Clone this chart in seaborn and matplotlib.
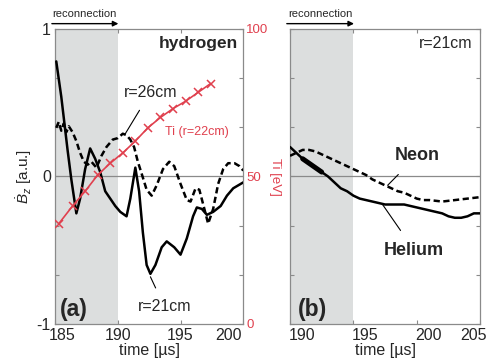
import numpy as np
import pandas as pd
import matplotlib
matplotlib.use("Agg")
import matplotlib.pyplot as plt
import matplotlib.transforms as mtransforms
import seaborn as sns

# --- data ---
# panel (a): hydrogen, r=21cm (solid)
t_h21 = [185.1, 185.5, 186.0, 186.3, 186.7, 187.0, 187.4, 187.8, 188.2, 188.6, 189.0, 189.4,
         189.8, 190.2, 190.7, 191.0, 191.4, 191.7, 192.0, 192.3, 192.6, 193.0, 193.5, 193.9,
         194.5, 195.0, 195.5, 196.0, 196.3, 196.7, 197.1, 197.6, 198.2, 198.7, 199.2, 199.6, 200.0]
b_h21 = [0.78, 0.54, 0.18, -0.02, -0.25, -0.15, 0.05, 0.19, 0.12, 0.03, -0.10, -0.15,
         -0.20, -0.24, -0.27, -0.15, 0.06, -0.10, -0.38, -0.60, -0.66, -0.60, -0.48, -0.44,
         -0.48, -0.53, -0.42, -0.27, -0.21, -0.22, -0.26, -0.24, -0.20, -0.13, -0.08, -0.06, -0.04]

# panel (a): hydrogen, r=26cm (dashed)
t_h26 = [185.1, 185.3, 185.5, 185.7, 185.9, 186.1, 186.4, 186.7, 187.0, 187.3, 187.6, 187.9,
         188.3, 188.7, 189.1, 189.6, 190.0, 190.4, 190.7, 191.0, 191.3, 191.6, 191.9, 192.3,
         192.7, 193.1, 193.6, 194.1, 194.5, 195.0, 195.5, 195.8, 196.2, 196.5, 196.9, 197.2,
         197.6, 198.0, 198.4, 198.8, 199.3, 199.7, 200.0]
b_h26 = [0.33, 0.37, 0.31, 0.36, 0.30, 0.34, 0.30, 0.24, 0.16, 0.10, 0.08, 0.10,
         0.06, 0.14, 0.20, 0.25, 0.26, 0.29, 0.28, 0.25, 0.20, 0.10, 0.02, -0.09,
         -0.13, -0.06, 0.05, 0.10, 0.07, -0.05, -0.16, -0.17, -0.08, -0.09, -0.22, -0.32,
         -0.22, -0.05, 0.05, 0.09, 0.09, 0.07, 0.04]

# panel (a): ion temperature at r=22cm
t_ti = [185.3, 186.4, 187.4, 188.4, 189.4, 190.4, 191.4, 192.4, 193.4, 194.4, 195.4, 196.4, 197.4]
ti = [34, 40, 45, 50.5, 54.5, 58, 62, 66.5, 70, 73, 75.5, 78.5, 81.5]

# panel (b): helium (solid) and neon (dashed), r=21cm
t_he = [190.0, 190.5, 191.0, 191.5, 192.0, 192.5, 193.0, 193.5, 194.0, 194.5, 195.0, 195.5,
        196.0, 196.5, 197.0, 197.5, 198.0, 198.5, 199.0, 199.5, 200.0, 200.5, 201.0, 201.5,
        202.0, 202.5, 203.0, 203.5, 204.0, 204.5, 205.0]
b_he = [0.20, 0.16, 0.12, 0.09, 0.06, 0.03, 0.00, -0.04, -0.08, -0.10, -0.13, -0.15,
        -0.16, -0.17, -0.18, -0.19, -0.19, -0.19, -0.19, -0.20, -0.21, -0.22, -0.23, -0.24,
        -0.25, -0.27, -0.28, -0.28, -0.27, -0.25, -0.25]
t_ne = [190.0, 190.5, 191.0, 191.5, 192.0, 192.5, 193.0, 193.5, 194.0, 194.5, 195.0, 195.5,
        196.0, 196.5, 197.0, 197.5, 198.0, 198.5, 199.0, 199.5, 200.0, 200.5, 201.0, 202.0,
        203.0, 204.0, 205.0]
b_ne = [0.14, 0.16, 0.18, 0.18, 0.17, 0.15, 0.13, 0.11, 0.09, 0.07, 0.05, 0.03,
        0.01, -0.02, -0.04, -0.06, -0.08, -0.10, -0.11, -0.13, -0.15, -0.16, -0.16, -0.17,
        -0.16, -0.15, -0.14]

sns.set_style("ticks")
plt.rcParams["font.family"] = ["Liberation Sans", "DejaVu Sans"]
plt.rcParams["mathtext.fontset"] = "custom"
plt.rcParams["mathtext.it"] = "Liberation Sans:italic"
plt.rcParams["mathtext.rm"] = "Liberation Sans"

RED = "#e0404e"
SPINE = "#8a8a8a"
SHADE = "#dcdede"
LW = 1.8
DASH = (2.5, 1.4)

fig = plt.figure(figsize=(4.89, 3.62), dpi=100)
ax1 = fig.add_axes([0.1125, 0.105, 0.385, 0.815])
ax2 = fig.add_axes([0.593, 0.105, 0.389, 0.815])

yt = np.linspace(-1, 1, 7)


def style_axes(ax, xlim, xticks, shade_end, ylabels):
    ax.set_xlim(*xlim)
    ax.set_ylim(-1, 1)
    ax.axvspan(xlim[0], shade_end, color=SHADE, lw=0, zorder=0)
    ax.axhline(0, color=SPINE, lw=0.9, zorder=1)
    ax.set_xticks(xticks)
    ax.set_yticks(yt)
    ax.set_yticklabels(ylabels)
    ax.tick_params(direction="in", length=3, color=SPINE, labelsize=11.5, pad=3,
                   top=True, right=True)
    for s in ax.spines.values():
        s.set_color(SPINE)
        s.set_linewidth(0.9)
    ax.set_xlabel("time [\u00b5s]", fontsize=11.5, labelpad=0)
    # reconnection arrow above the shaded window
    tr = ax.get_xaxis_transform()
    ax.annotate("", xy=(shade_end + 0.05, 1.018), xytext=(xlim[0] - 0.25, 1.018),
                xycoords=tr, textcoords=tr,
                arrowprops=dict(arrowstyle="-|>", color="black", lw=1.0,
                                mutation_scale=8, shrinkA=0, shrinkB=0),
                annotation_clip=False)
    ax.text((xlim[0] - 0.25 + shade_end) / 2, 1.035, "reconnection", transform=tr,
            ha="center", va="bottom", fontsize=8)


def shift_xlabels(ax, shifts_px):
    # nudge individual tick labels sideways (pixels at dpi 100)
    for lab, dx in zip(ax.get_xticklabels(), shifts_px):
        off = mtransforms.ScaledTranslation(dx / 100, 0, fig.dpi_scale_trans)
        lab.set_transform(lab.get_transform() + off)


# ---------- panel (a) ----------
style_axes(ax1, (185, 200), [185, 190, 195, 200], 190,
           ["-1", "", "", "0", "", "", "1"])
ax1.tick_params(axis="y", right=False)
ax1.set_ylabel(r"$\dot{B}_z$ [a.u.]", fontsize=11, labelpad=2)
shift_xlabels(ax1, [7, 0, 0, -15])

sns.lineplot(x=t_h21, y=b_h21, ax=ax1, color="black", lw=LW, sort=False, zorder=3)
sns.lineplot(x=t_h26, y=b_h26, ax=ax1, color="black", lw=LW, sort=False, zorder=3)
ax1.lines[-1].set_dashes(DASH)

ax1r = ax1.twinx()
ax1r.set_ylim(0, 100)
ax1r.set_yticks(np.linspace(0, 100, 7))
ax1r.set_yticklabels(["0", "", "", "50", "", "", "100"])
ax1r.tick_params(direction="in", length=3, color=SPINE, labelsize=9.5,
                 labelcolor=RED, pad=2)
for s in ax1r.spines.values():
    s.set_visible(False)
ax1r.set_ylabel("Ti [eV]", color=RED, fontsize=9.5, rotation=270, labelpad=9)
sns.lineplot(x=t_ti, y=ti, ax=ax1r, color=RED, lw=1.2, marker="x", markersize=6,
             markeredgewidth=1.1, markeredgecolor=RED, sort=False, zorder=4)

ax1.text(199.6, 0.9, "hydrogen", ha="right", va="center", fontsize=12.5, fontweight="bold")
ax1.text(196.3, 0.30, "Ti (r=22cm)", ha="center", va="center", fontsize=9, color=RED)
ax1.annotate("r=26cm", xy=(190.6, 0.29), xytext=(192.6, 0.57), ha="center", va="center",
             fontsize=11.5, arrowprops=dict(arrowstyle="-", color="black", lw=0.8,
                                            shrinkA=6, shrinkB=0))
ax1.annotate("r=21cm", xy=(192.6, -0.68), xytext=(193.7, -0.88), ha="center", va="center",
             fontsize=11.5, arrowprops=dict(arrowstyle="-", color="black", lw=0.8,
                                            shrinkA=6, shrinkB=0))
ax1.text(186.5, -0.9, "(a)", ha="center", va="center", fontsize=16.5, fontweight="bold")

# ---------- panel (b) ----------
style_axes(ax2, (190, 205), [190, 195, 200, 205], 195, [""] * 7)
shift_xlabels(ax2, [12, 12, 12, -7])

sns.lineplot(x=t_he, y=b_he, ax=ax2, color="black", lw=LW, sort=False, zorder=3)
thick = [(t, b) for t, b in zip(t_he, b_he) if 190.8 <= t <= 192.8]
sns.lineplot(x=[p[0] for p in thick], y=[p[1] for p in thick], ax=ax2, color="black",
             lw=3.6, sort=False, zorder=3)
sns.lineplot(x=t_ne, y=b_ne, ax=ax2, color="black", lw=LW, sort=False, zorder=3)
ax2.lines[-1].set_dashes(DASH)

ax2.text(204.4, 0.9, "r=21cm", ha="right", va="center", fontsize=11.5)
ax2.annotate("Neon", xy=(197.7, -0.06), xytext=(200.0, 0.14), ha="center", va="center",
             fontsize=13, fontweight="bold",
             arrowprops=dict(arrowstyle="-", color="black", lw=0.8, shrinkA=7, shrinkB=0))
ax2.annotate("Helium", xy=(197.3, -0.19), xytext=(199.8, -0.50), ha="center", va="center",
             fontsize=13, fontweight="bold",
             arrowprops=dict(arrowstyle="-", color="black", lw=0.8, shrinkA=7, shrinkB=0))
ax2.text(191.8, -0.9, "(b)", ha="center", va="center", fontsize=16.5, fontweight="bold")

fig.savefig("out.png", dpi=100)
